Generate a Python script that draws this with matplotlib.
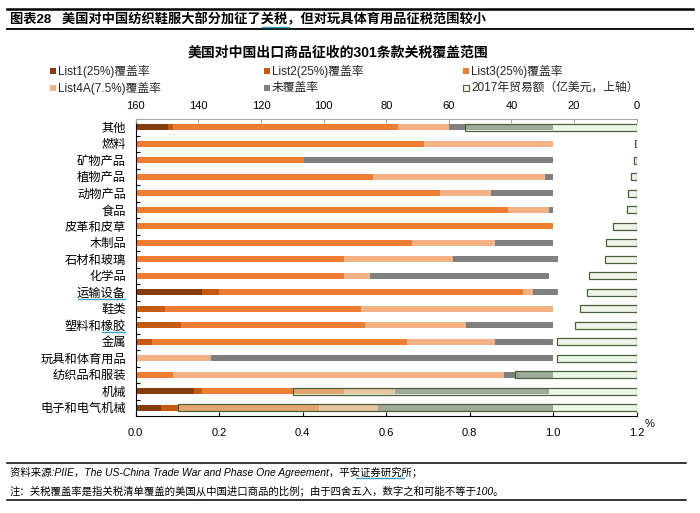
# -*- coding: utf-8 -*-
"""
美国对中国出口商品征收的301条款关税覆盖范围 图表复刻
"""

import matplotlib
matplotlib.use('Agg')
import matplotlib.pyplot as plt
from matplotlib.patches import Rectangle
from matplotlib.lines import Line2D
import numpy as np

# 数据
lstCategories = ['其他', '燃料', '矿物产品', '植物产品', '动物产品', '食品', '皮革和皮草', '木制品',
	'石材和玻璃', '化学品', '运输设备', '鞋类', '塑料和橡胶', '金属', '玩具和体育用品',
	'纺织品和服装', '机械', '电子和电气机械']
lstList1 = [0.078, 0, 0, 0, 0, 0, 0, 0, 0, 0, 0.159, 0, 0, 0, 0, 0, 0.140, 0.061]
lstList2 = [0.011, 0, 0, 0, 0, 0, 0, 0, 0, 0, 0.041, 0.069, 0.108, 0.039, 0, 0, 0.019, 0.041]
lstList3 = [0.540, 0.690, 0.403, 0.569, 0.730, 0.891, 1.0, 0.661, 0.500, 0.500, 0.728, 0.471,
	0.441, 0.610, 0, 0.089, 0.341, 0.338]
lstList4A = [0.122, 0.310, 0, 0.411, 0.121, 0.099, 0, 0.200, 0.261, 0.061, 0.023, 0.460,
	0.241, 0.212, 0.180, 0.793, 0.121, 0.140]
lstUncovered = [0.249, 0, 0.597, 0.020, 0.149, 0.010, 0, 0.139, 0.250, 0.429, 0.060, 0,
	0.210, 0.139, 0.820, 0.118, 0.369, 0.420]
lstTrade2017 = [54.8, 0.5, 1.0, 1.8, 2.8, 3.1, 7.6, 9.8, 10.1, 15.3, 16.0, 18.2, 19.8,
	25.6, 25.6, 39.0, 109.7, 146.4]
lstLegendLabels = ['List1(25%)覆盖率', 'List2(25%)覆盖率', 'List3(25%)覆盖率',
	'List4A(7.5%)覆盖率', '未覆盖率', '2017年贸易额（亿美元，上轴）']
lstBottomTicks = [0.0, 0.2, 0.4, 0.6, 0.8, 1.0, 1.2]
lstTopTicks = [160, 140, 120, 100, 80, 60, 40, 20, 0]

lstColors = ['#843c0c', '#c55a11', '#ed7d31', '#f4b183', '#7f7f7f']
sTradeFace = '#d5e8c8'
sTradeEdge = '#4b5f3a'

plt.rcParams['font.family'] = ['Liberation Sans', 'Noto Sans CJK SC', 'DejaVu Sans']
plt.rcParams['axes.unicode_minus'] = False

W, H = 700, 513
fig = plt.figure(figsize=(W / 100, H / 100), dpi=100)


def fx(x):
	return x / W


def fy(y):
	return 1 - y / H


ax = fig.add_axes([fx(135.7), fy(416), (636.7 - 135.7) / W, (416 - 119) / H])
arrY = np.arange(len(lstCategories))
fBarH = 0.36

# 堆叠柱
arrLeft = np.zeros(len(lstCategories))
for lstVals, sColor in zip([lstList1, lstList2, lstList3, lstList4A, lstUncovered], lstColors):
	arrVals = np.array(lstVals)
	ax.barh(arrY, arrVals, left=arrLeft, height=fBarH, color=sColor, linewidth=0, zorder=2)
	arrLeft = arrLeft + arrVals

ax.set_xlim(0, 1.2)
ax.set_ylim(len(lstCategories) - 0.5, -0.5)
ax.set_xticks(lstBottomTicks)
ax.set_xticklabels([f'{v:.1f}' for v in lstBottomTicks], fontsize=8)
ax.tick_params(axis='x', direction='in', length=3, width=0.8, pad=9, colors='black')
ax.set_yticks(arrY)
ax.set_yticklabels(lstCategories, fontsize=8.8)
ax.tick_params(axis='y', which='major', length=0, pad=7)
ax.set_yticks(np.arange(len(lstCategories) - 1) + 0.5, minor=True)
ax.tick_params(axis='y', which='minor', direction='in', length=3, width=0.8)
for s in ['top', 'right']:
	ax.spines[s].set_visible(False)
ax.spines['left'].set_color('black')
ax.spines['bottom'].set_color('black')

# 上轴：2017年贸易额
ax2 = ax.twiny()
ax2.barh(arrY, lstTrade2017, left=0, height=fBarH + 0.04, facecolor=sTradeFace, alpha=0.4,
	edgecolor='none', zorder=3)
ax2.barh(arrY, lstTrade2017, left=0, height=fBarH + 0.04, facecolor='none',
	edgecolor=sTradeEdge, linewidth=0.9, zorder=4)
ax2.set_xlim(160, 0)
ax2.set_ylim(len(lstCategories) - 0.5, -0.5)
ax2.set_xticks(lstTopTicks)
ax2.set_xticklabels([str(v) for v in lstTopTicks], fontsize=8)
ax2.tick_params(axis='x', direction='in', length=3, width=0.8, color='#a6a6a6', pad=6)
for s in ['bottom', 'left', 'right']:
	ax2.spines[s].set_visible(False)
ax2.spines['top'].set_color('#a6a6a6')

fig.text(fx(650), fy(424), '%', fontsize=8, ha='center', va='center')

# 标题
fig.add_artist(Line2D([fx(7), fx(693)], [fy(9), fy(9)], color='black', linewidth=1.8))
fig.add_artist(Line2D([fx(7), fx(693)], [fy(28.5), fy(28.5)], color='black', linewidth=1.3))
fig.text(fx(10), fy(19), '图表28   美国对中国纺织鞋服大部分加征了关税，但对玩具体育用品征税范围较小',
	fontsize=9.5, fontweight='bold', ha='left', va='center')
fig.add_artist(Line2D([fx(262), fx(289)], [fy(27), fy(27)], color='#3aa0c8', linewidth=1))
fig.text(fx(338), fy(53), '美国对中国出口商品征收的301条款关税覆盖范围',
	fontsize=10, fontweight='bold', ha='center', va='center')

# 图例
lstLegPos = [(53, 71), (267, 71), (466, 71), (53, 88), (267, 88), (466, 88)]
for i, (x, y) in enumerate(lstLegPos):
	if i < 5:
		objRect = Rectangle((fx(x - 3), fy(y + 3)), 6 / W, 6 / H, transform=fig.transFigure,
			facecolor=lstColors[i], edgecolor='none')
	else:
		objRect = Rectangle((fx(x - 3), fy(y + 3)), 6 / W, 6 / H, transform=fig.transFigure,
			facecolor='#eef6e9', edgecolor=sTradeEdge, linewidth=0.8)
	fig.add_artist(objRect)
	fig.text(fx(x + 5), fy(y), lstLegendLabels[i], fontsize=8.5, ha='left', va='center',
		color='#262626')

# 标签下划线
fig.add_artist(Line2D([fx(78), fx(125)], [fy(299), fy(299)], color='#3aa0c8', linewidth=1))
fig.add_artist(Line2D([fx(102), fx(125)], [fy(332), fy(332)], color='#3aa0c8', linewidth=1))

# 脚注
fig.add_artist(Line2D([fx(7), fx(686)], [fy(463), fy(463)], color='black', linewidth=1.1))
fig.add_artist(Line2D([fx(7), fx(686)], [fy(500), fy(500)], color='black', linewidth=1.1))
fig.text(fx(10), fy(472), '资料来源:PIIE，The US-China Trade War and Phase One Agreement，平安证券研究所；',
	fontsize=7.5, style='italic', ha='left', va='center')
fig.add_artist(Line2D([fx(356), fx(404)], [fy(478), fy(478)], color='#3aa0c8', linewidth=1))
fig.text(fx(10), fy(491), '注：关税覆盖率是指关税清单覆盖的美国从中国进口商品的比例；由于四舍五入，数字之和可能不等于100。',
	fontsize=7.5, style='italic', ha='left', va='center')

fig.savefig('out.png', dpi=100)
plt.close(fig)
